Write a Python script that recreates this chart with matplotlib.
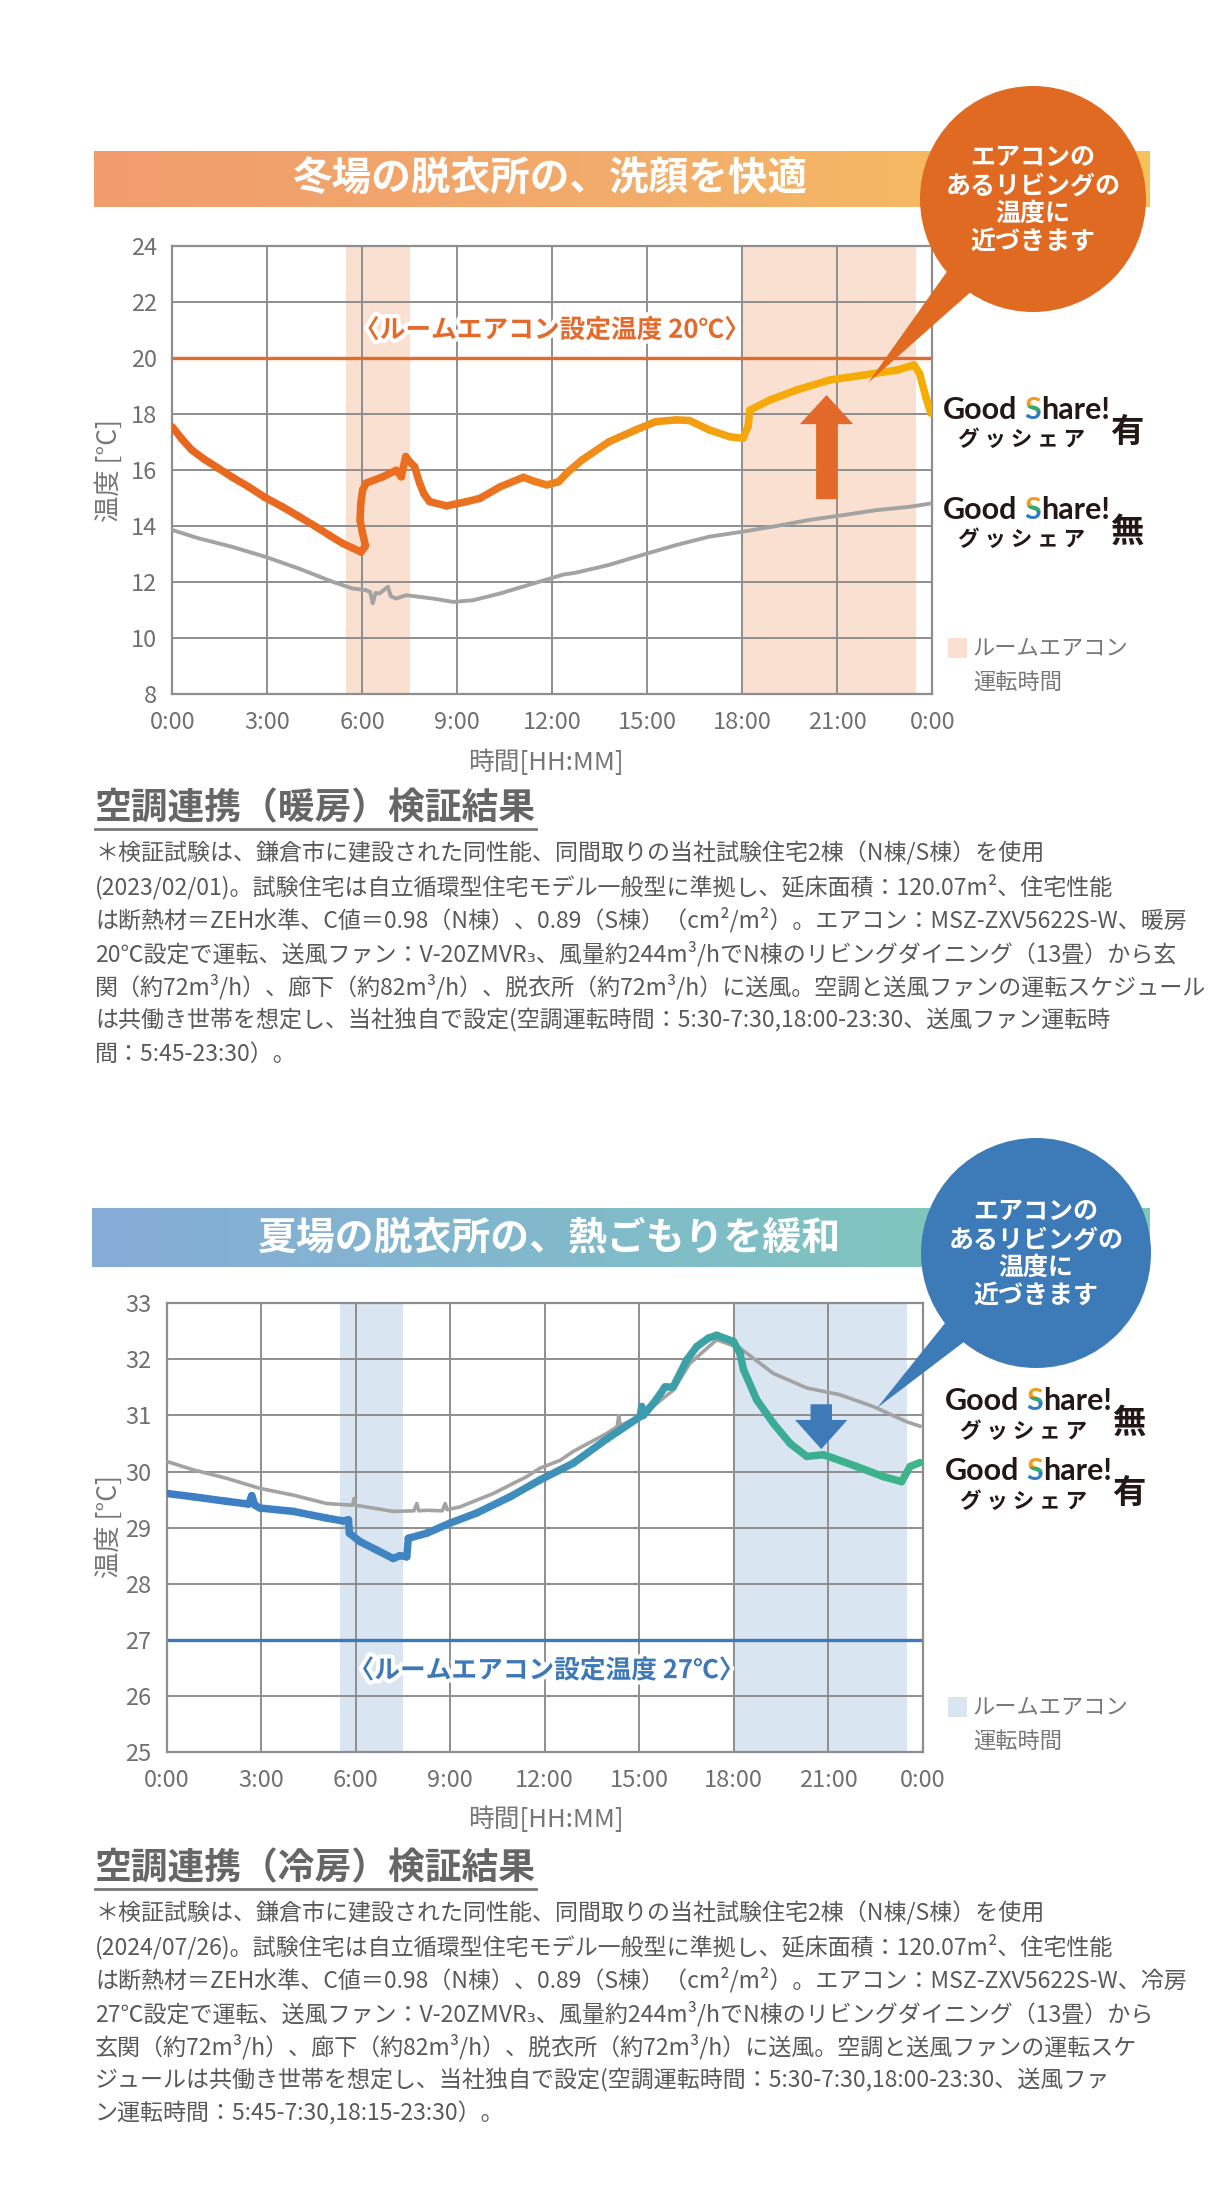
import numpy as np
import matplotlib
matplotlib.use("Agg")
import matplotlib.pyplot as plt
from matplotlib.collections import LineCollection
from matplotlib.patches import Rectangle, Circle, Polygon, FancyArrow
from matplotlib.colors import to_rgb
from matplotlib.transforms import Bbox
from matplotlib.font_manager import FontProperties
import matplotlib.patheffects as pe

plt.rcParams['font.family'] = ['Noto Sans CJK JP', 'DejaVu Sans']

# ---------------- data ----------------
hour_ticks = [0, 3, 6, 9, 12, 15, 18, 21, 24]
hour_labels = ['0:00', '3:00', '6:00', '9:00', '12:00', '15:00', '18:00', '21:00', '0:00']
winter_yticks = [8, 10, 12, 14, 16, 18, 20, 22, 24]
summer_yticks = [25, 26, 27, 28, 29, 30, 31, 32, 33]
ac_periods = [(5.5, 7.5), (18.0, 23.5)]
winter_setpoint = 20
summer_setpoint = 27

# Winter, with Good Share!
winter_on_h = [0.0, 0.3, 0.61, 1.0, 1.46, 1.9, 2.41, 2.9, 3.47, 4.0,
               4.53, 5.0, 5.38, 5.7, 5.96, 6.1, 6.0, 5.93, 5.95, 6.01,
               6.12, 6.65, 7.07, 7.23, 7.37, 7.5, 7.65, 7.81, 7.95, 8.13,
               8.66, 9.29, 9.72, 10.35, 11.09, 11.45, 11.83, 12.2, 12.5, 12.94,
               13.79, 14.63, 15.27, 15.91, 16.33, 16.96, 17.6, 18.02, 18.18, 18.24,
               18.87, 19.72, 20.78, 21.83, 22.89, 23.42, 23.6, 23.8, 23.95]
winter_on_t = [17.55, 17.12, 16.73, 16.4, 16.07, 15.75, 15.41, 15.05, 14.7, 14.35,
               13.99, 13.65, 13.39, 13.22, 13.08, 13.3, 13.8, 14.22, 14.8, 15.3,
               15.54, 15.77, 16.0, 15.77, 16.49, 16.3, 16.13, 15.54, 15.15, 14.88,
               14.73, 14.88, 15.0, 15.41, 15.75, 15.6, 15.48, 15.59, 15.95, 16.37,
               17.02, 17.44, 17.74, 17.8, 17.78, 17.44, 17.2, 17.14, 17.56, 18.15,
               18.51, 18.87, 19.23, 19.4, 19.58, 19.76, 19.45, 18.6, 18.04]
# Winter, without Good Share!
winter_off_h = [0.0, 0.83, 1.88, 2.94, 4.0, 5.06, 5.69, 6.12, 6.25, 6.33,
                6.42, 6.54, 6.81, 6.9, 7.07, 7.39, 8.23, 8.87, 9.5, 10.35,
                11.41, 12.36, 12.73, 13.79, 14.85, 15.91, 16.96, 18.02, 19.08, 20.13,
                21.19, 22.25, 23.31, 23.98]
winter_off_t = [13.87, 13.57, 13.27, 12.91, 12.49, 12.02, 11.78, 11.72, 11.65, 11.25,
                11.62, 11.6, 11.84, 11.5, 11.42, 11.54, 11.42, 11.3, 11.36, 11.6,
                11.96, 12.28, 12.34, 12.62, 12.98, 13.33, 13.63, 13.81, 14.01, 14.23,
                14.4, 14.58, 14.7, 14.82]
# Summer, with Good Share!
summer_on_h = [0.0, 0.85, 1.9, 2.6, 2.7, 2.8, 2.96, 4.02, 5.08, 5.6,
               5.77, 5.8, 6.14, 6.67, 7.19, 7.4, 7.62, 7.67, 8.25, 8.99,
               9.84, 10.9, 11.85, 12.91, 13.97, 15.03, 15.08, 15.13, 15.5, 15.82,
               16.08, 16.51, 16.83, 17.2, 17.46, 17.99, 18.2, 18.31, 18.73, 19.26,
               19.79, 20.32, 20.84, 21.16, 21.9, 22.75, 23.33, 23.6, 23.91]
summer_on_t = [29.61, 29.55, 29.47, 29.42, 29.57, 29.4, 29.35, 29.29, 29.17, 29.12,
               29.14, 28.9, 28.75, 28.6, 28.45, 28.5, 28.48, 28.81, 28.9, 29.08,
               29.26, 29.55, 29.85, 30.15, 30.58, 30.98, 31.16, 31.0, 31.25, 31.51,
               31.51, 31.99, 32.23, 32.38, 32.43, 32.32, 32.11, 31.82, 31.28, 30.86,
               30.5, 30.27, 30.3, 30.24, 30.09, 29.91, 29.82, 30.09, 30.16]
# Summer, without Good Share!
summer_off_h = [0.0, 0.85, 1.9, 2.96, 4.02, 5.08, 5.9, 5.95, 6.0, 7.19,
                7.85, 7.94, 8.0, 8.25, 8.75, 8.84, 8.9, 9.31, 10.37, 11.43,
                11.85, 12.49, 12.91, 13.97, 14.3, 14.35, 14.4, 15.03, 16.08, 16.61,
                17.46, 18.2, 19.26, 20.32, 21.37, 22.43, 23.48, 23.91]
summer_off_t = [30.18, 30.03, 29.88, 29.7, 29.58, 29.43, 29.4, 29.52, 29.4, 29.29,
                29.3, 29.43, 29.3, 29.31, 29.3, 29.43, 29.32, 29.37, 29.61, 29.91,
                30.06, 30.2, 30.36, 30.68, 30.8, 31.0, 30.82, 30.98, 31.45, 31.93,
                32.35, 32.2, 31.75, 31.49, 31.37, 31.16, 30.89, 30.81]

winter_title = '冬場の脱衣所の、洗顔を快適'
summer_title = '夏場の脱衣所の、熱ごもりを緩和'
bubble_lines = ['エアコンの', 'あるリビングの', '温度に', '近づきます']
winter_set_label = '〈ルームエアコン設定温度 20℃〉'
summer_set_label = '〈ルームエアコン設定温度 27℃〉'
runtime_legend = ['ルームエアコン', '運転時間']
winter_heading = '空調連携（暖房）検証結果'
summer_heading = '空調連携（冷房）検証結果'
winter_notes = [
    '＊検証試験は、鎌倉市に建設された同性能、同間取りの当社試験住宅2棟（N棟/S棟）を使用',
    '(2023/02/01)。試験住宅は自立循環型住宅モデル一般型に準拠し、延床面積：120.07m²、住宅性能',
    'は断熱材＝ZEH水準、C値＝0.98（N棟）、0.89（S棟）（cm²/m²）。エアコン：MSZ-ZXV5622S-W、暖房',
    '20℃設定で運転、送風ファン：V-20ZMVR₃、風量約244m³/hでN棟のリビングダイニング（13畳）から玄',
    '関（約72m³/h）、廊下（約82m³/h）、脱衣所（約72m³/h）に送風。空調と送風ファンの運転スケジュール',
    'は共働き世帯を想定し、当社独自で設定(空調運転時間：5:30-7:30,18:00-23:30、送風ファン運転時',
    '間：5:45-23:30）。',
]
summer_notes = [
    '＊検証試験は、鎌倉市に建設された同性能、同間取りの当社試験住宅2棟（N棟/S棟）を使用',
    '(2024/07/26)。試験住宅は自立循環型住宅モデル一般型に準拠し、延床面積：120.07m²、住宅性能',
    'は断熱材＝ZEH水準、C値＝0.98（N棟）、0.89（S棟）（cm²/m²）。エアコン：MSZ-ZXV5622S-W、冷房',
    '27℃設定で運転、送風ファン：V-20ZMVR₃、風量約244m³/hでN棟のリビングダイニング（13畳）から',
    '玄関（約72m³/h）、廊下（約82m³/h）、脱衣所（約72m³/h）に送風。空調と送風ファンの運転スケ',
    'ジュールは共働き世帯を想定し、当社独自で設定(空調運転時間：5:30-7:30,18:00-23:30、送風ファ',
    'ン運転時間：5:45-7:30,18:15-23:30）。',
]

# ---------------- figure ----------------
W, H = 1228, 2196
fig = plt.figure(figsize=(W / 100, H / 100), dpi=100, facecolor='white')
renderer = fig.canvas.get_renderer()


def rect(l, t, r, b):
    return [l / W, 1 - b / H, (r - l) / W, (b - t) / H]


GRID = '#8e8e8e'
TICK = '#707070'


def setup_chart(ax, ylim, yticks, band_color):
    ax.set_xlim(0, 24)
    ax.set_ylim(*ylim)
    for a, b in ac_periods:
        ax.axvspan(a, b, color=band_color, lw=0, zorder=0.2)
    ax.set_xticks(hour_ticks, hour_labels)
    ax.set_yticks(yticks)
    ax.set_axisbelow(True)
    ax.grid(True, color=GRID, lw=1.4)
    for s in ax.spines.values():
        s.set_color(GRID)
        s.set_linewidth(1.6)
    ax.tick_params(length=0, labelsize=17, labelcolor=TICK)
    ax.tick_params(axis='x', pad=12)
    ax.tick_params(axis='y', pad=11)


def grad_line(ax, x, y, stops, lw):
    x = np.asarray(x, float)
    y = np.asarray(y, float)
    pts = np.column_stack([x, y]).reshape(-1, 1, 2)
    segs = np.concatenate([pts[:-1], pts[1:]], axis=1)
    mid = (x[:-1] + x[1:]) / 2
    sx = [s[0] for s in stops]
    cols = np.array([to_rgb(s[1]) for s in stops])
    c = np.column_stack([np.interp(mid, sx, cols[:, i]) for i in range(3)])
    lc = LineCollection(segs, colors=c, linewidths=lw, capstyle='round',
                        joinstyle='round', zorder=4)
    ax.add_collection(lc)


# --- winter chart ---
ax1 = fig.add_axes(rect(172.3, 246.3, 932.3, 694.3))
setup_chart(ax1, (8, 24), winter_yticks, '#F9E0D0')
ax1.axhline(winter_setpoint, color='#E4692A', lw=2.4, zorder=2)
ax1.plot(winter_off_h, winter_off_t, color='#A3A3A3', lw=2.8,
         solid_joinstyle='round', zorder=3)
grad_line(ax1, winter_on_h, winter_on_t,
          [(0, '#E8661F'), (10, '#EB7020'), (13, '#F08A1A'), (16, '#F29A12'),
           (18.5, '#F5A90A'), (24, '#F5AD00')], 5.4)
ax1.text(12.0, 21.0, winter_set_label, color='#E4692A', fontsize=18.5,
         fontweight='bold', ha='center', va='center', zorder=5,
         path_effects=[pe.withStroke(linewidth=6, foreground='white')])
ax1.add_patch(FancyArrow(20.66, 14.97, 0, 18.69 - 14.97, width=0.66,
                         head_width=1.68, head_length=1.04,
                         length_includes_head=True, color='#E2692A', lw=0,
                         zorder=6))

# --- summer chart ---
ax2 = fig.add_axes(rect(166.7, 1303.3, 922.7, 1752))
setup_chart(ax2, (25, 33), summer_yticks, '#D9E5F1')
ax2.axhline(summer_setpoint, color='#3D78B8', lw=2.4, zorder=2)
ax2.plot(summer_off_h, summer_off_t, color='#A3A3A3', lw=2.6,
         solid_joinstyle='round', zorder=3)
grad_line(ax2, summer_on_h, summer_on_t,
          [(0, '#3E7DC5'), (9, '#3F86C2'), (13, '#3E94B8'), (17, '#3BA2A5'),
           (20, '#3BAE92'), (24, '#3FB688')], 5.4)
ax2.text(12.07, 26.45, summer_set_label, color='#3D78B8', fontsize=18.5,
         fontweight='bold', ha='center', va='center', zorder=5,
         path_effects=[pe.withStroke(linewidth=6, foreground='white')])
ax2.add_patch(FancyArrow(20.78, 31.2, 0, 30.4 - 31.2, width=0.68,
                         head_width=1.66, head_length=0.52,
                         length_includes_head=True, color='#3F7AB8', lw=0,
                         zorder=6))

# ---------------- overlay (pixel coordinates, y down) ----------------
ov = fig.add_axes([0, 0, 1, 1], zorder=10)
ov.axis('off')


def band(x0, x1, y0, y1, stops):
    n = 300
    t = np.linspace(0, 1, n)
    sx = [s[0] for s in stops]
    cols = np.array([to_rgb(s[1]) for s in stops])
    img = np.column_stack([np.interp(t, sx, cols[:, i]) for i in range(3)])[None, :, :]
    ov.imshow(img, extent=(x0, x1, y1, y0), aspect='auto', zorder=1,
              interpolation='bilinear')


band(94, 1150, 151, 207, [(0, '#F19C6E'), (0.55, '#F3AE6A'), (1, '#F7C25C')])
band(92, 1150, 1208, 1267, [(0, '#86ACD8'), (0.55, '#80BDC8'), (1, '#7FCBB4')])
ov.text(550, 179, winter_title, color='white', fontsize=28.5, fontweight='bold',
        ha='center', va='center', zorder=3)
ov.text(550, 1238, summer_title, color='white', fontsize=28, fontweight='bold',
        ha='center', va='center', zorder=3)


def bubble(cx, cy, r, tip, color, half):
    ux, uy = tip[0] - cx, tip[1] - cy
    ln = np.hypot(ux, uy)
    ux, uy = ux / ln, uy / ln
    px, py = -uy, ux
    bx, by = cx + 0.8 * r * ux, cy + 0.8 * r * uy
    ov.add_patch(Polygon([tip, (bx + half * px, by + half * py),
                          (bx - half * px, by - half * py)],
                         closed=True, color=color, lw=0, zorder=5))
    ov.add_patch(Circle((cx, cy), r, color=color, lw=0, zorder=5))
    ov.text(cx, cy + 1, '\n'.join(bubble_lines), color='white', fontsize=18,
            fontweight='bold', ha='center', va='center', multialignment='center',
            linespacing=1.2, zorder=6)


bubble(1033, 199, 113, (868, 383), '#E06A22', 18)
bubble(1036, 1253, 115, (877, 1408), '#3D7AB8', 16)

fp_logo = FontProperties(family=['Lato', 'DejaVu Sans'], weight='bold', size=22)
DARK = '#231815'


def tw(s, fp):
    w, h, d = renderer.get_text_width_height_descent(s, fp, ismath=False)
    return w


def good_share(x0, y0, mark):
    base = y0 + 11
    ov.text(x0, base, 'Good', fontproperties=fp_logo, color=DARK, ha='left',
            va='baseline', zorder=6)
    xs = x0 + tw('Good S', fp_logo) - tw('S', fp_logo)
    xh = x0 + tw('Good Sh', fp_logo) - tw('h', fp_logo)
    ov.text(xh, base, 'hare!', fontproperties=fp_logo, color=DARK, ha='left',
            va='baseline', zorder=6)
    db = H - base
    cap = 22
    parts = [('#F29B1F', db + cap * 0.60, db + cap + 8),
             ('#33A874', db + cap * 0.38, db + cap * 0.60),
             ('#2E7CC2', db - 8, db + cap * 0.38)]
    for col, lo, hi in parts:
        t = ov.text(xs, base, 'S', fontproperties=fp_logo, color=col,
                    ha='left', va='baseline', zorder=6, clip_on=True)
        t.set_clip_box(Bbox.from_extents(xs - 6, lo, xs + 40, hi))
    ov.text(x0 + 79, y0 + 32, 'グ ッ シ ェ ア', fontsize=15.5, fontweight='bold',
            color=DARK, ha='center', va='center', zorder=6)
    ov.text(x0 + 184, y0 + 24, mark, fontsize=24, fontweight='bold',
            color=DARK, ha='center', va='center', zorder=6)


good_share(943, 408, '有')
good_share(943, 508, '無')
good_share(945, 1399, '無')
good_share(945, 1469, '有')


def runtime_leg(y_sq, color):
    ov.add_patch(Rectangle((948, y_sq), 19, 20, color=color, lw=0, zorder=3))
    ov.text(973, y_sq + 10, runtime_legend[0], fontsize=16, color='#777777',
            ha='left', va='center', zorder=3)
    ov.text(973, y_sq + 44, runtime_legend[1], fontsize=16, color='#777777',
            ha='left', va='center', zorder=3)


runtime_leg(638, '#F9E0D0')
runtime_leg(1697, '#D9E5F1')

# axis titles
for yc in (470, 1527):
    ov.text(109, yc, '温度 [°C]', rotation=90, fontsize=19, color='#777777',
            ha='center', va='center')
ov.text(546, 763, '時間[HH:MM]', fontsize=18.5, color='#777777', ha='center', va='center')
ov.text(546, 1820, '時間[HH:MM]', fontsize=18.5, color='#777777', ha='center', va='center')

# notes
fp_head = FontProperties(family=['Noto Sans CJK JP', 'DejaVu Sans'], weight='bold', size=26.5)
TEXT_W = 1112
fp_ref = FontProperties(family=['Noto Sans CJK JP', 'DejaVu Sans'], size=20)
widest = max(tw(s, fp_ref) for s in winter_notes + summer_notes)
body_size = min(19.0, 20 * TEXT_W / widest)


def notes(y_head, heading, lines, y_first):
    ov.text(95, y_head, heading, fontproperties=fp_head, color='#666666',
            ha='left', va='center')
    w = tw(heading, fp_head)
    ov.plot([95, 95 + w], [y_head + 20, y_head + 20], color='#777777', lw=2)
    for i, line in enumerate(lines):
        ov.text(95, y_first + i * 33.5, line, fontsize=body_size, color='#595959',
                ha='left', va='center')


notes(809, winter_heading, winter_notes, 853)
notes(1869, summer_heading, summer_notes, 1913)

ov.set_xlim(0, W)
ov.set_ylim(H, 0)

fig.savefig('out.png', dpi=100, facecolor='white')
